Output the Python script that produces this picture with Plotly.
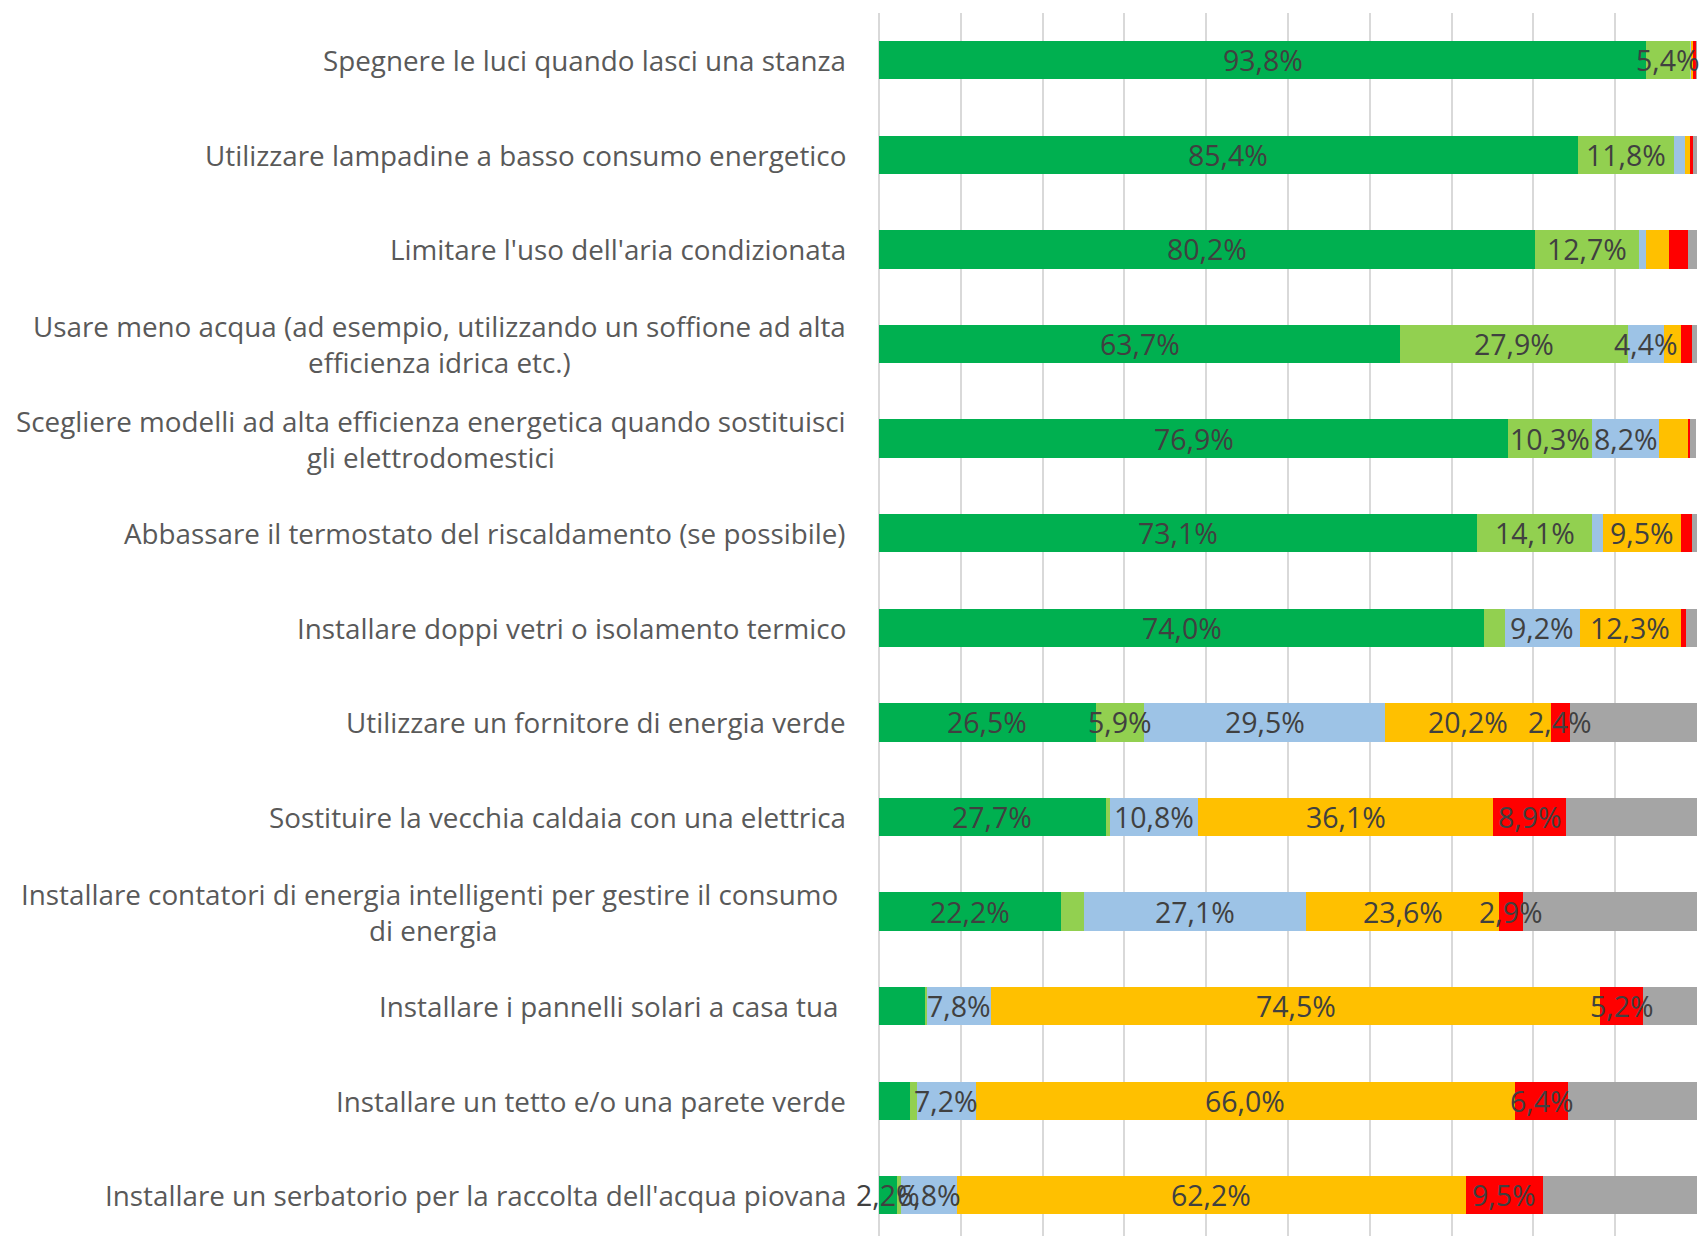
import plotly.graph_objects as go

categories = [
    "Spegnere le luci quando lasci una stanza",
    "Utilizzare lampadine a basso consumo energetico",
    "Limitare l'uso dell'aria condizionata",
    "Usare meno acqua (ad esempio, utilizzando un soffione ad alta<br>efficienza idrica etc.)",
    "Scegliere modelli ad alta efficienza energetica quando sostituisci<br>gli elettrodomestici",
    "Abbassare il termostato del riscaldamento (se possibile)",
    "Installare doppi vetri o isolamento termico",
    "Utilizzare un fornitore di energia verde",
    "Sostituire la vecchia caldaia con una elettrica",
    "Installare contatori di energia intelligenti per gestire il consumo\u00a0<br>di energia",
    "Installare i pannelli solari a casa tua\u00a0",
    "Installare un tetto e/o una parete verde",
    "Installare un serbatorio per la raccolta dell'acqua piovana",
]

s1 = [93.8, 85.4, 80.2, 63.7, 76.9, 73.1, 74.0, 26.5, 27.7, 22.2, 5.6, 3.8, 2.2]
s2 = [5.4, 11.8, 12.7, 27.9, 10.3, 14.1, 2.5, 5.9, 0.5, 2.9, 0.3, 0.8, 0.5]
s3 = [0.1, 1.3, 0.9, 4.4, 8.2, 1.3, 9.2, 29.5, 10.8, 27.1, 7.8, 7.2, 6.8]
s4 = [0.2, 0.6, 2.8, 2.1, 3.5, 9.5, 12.3, 20.2, 36.1, 23.6, 74.5, 66.0, 62.2]
s5 = [0.4, 0.4, 2.3, 1.3, 0.3, 1.4, 0.6, 2.4, 8.9, 2.9, 5.2, 6.4, 9.5]
s6 = [0.1, 0.5, 1.1, 0.6, 0.7, 0.6, 1.4, 15.5, 16.0, 21.3, 6.6, 15.8, 18.8]

# which data labels are displayed (1 = shown)
show1 = [1, 1, 1, 1, 1, 1, 1, 1, 1, 1, 0, 0, 1]
show2 = [1, 1, 1, 1, 1, 1, 0, 1, 0, 0, 0, 0, 0]
show3 = [0, 0, 0, 1, 1, 0, 1, 1, 1, 1, 1, 1, 1]
show4 = [0, 0, 0, 0, 0, 1, 1, 1, 1, 1, 1, 1, 1]
show5 = [0, 0, 0, 0, 0, 0, 0, 1, 1, 1, 1, 1, 1]
show6 = [0] * 13

series = [s1, s2, s3, s4, s5, s6]
shows = [show1, show2, show3, show4, show5, show6]
names = ["Serie 1", "Serie 2", "Serie 3", "Serie 4", "Serie 5", "Serie 6"]
colors = ["#00B050", "#92D050", "#9DC3E6", "#FFC000", "#FF0000", "#A5A5A5"]

FONT = "Open Sans"
ypos = list(range(len(categories)))

fig = go.Figure()
for vals, name, col in zip(series, names, colors):
    fig.add_trace(go.Bar(
        y=ypos, x=vals, name=name, orientation="h",
        marker=dict(color=col, line=dict(width=0)),
        hoverinfo="x+name",
    ))

annotations = []
cum = [0.0] * len(categories)
for vals, sh in zip(series, shows):
    for i, v in enumerate(vals):
        if sh[i]:
            annotations.append(dict(
                x=cum[i] + v / 2, y=i, xref="x", yref="y",
                text=f"{v:.1f}".replace(".", ",") + "%",
                showarrow=False, xanchor="center", yanchor="middle",
                font=dict(family=FONT, size=28.5, color="#404040"),
            ))
        cum[i] += v

for i, c in enumerate(categories):
    annotations.append(dict(
        x=0, y=i, xref="x", yref="y", xshift=-31,
        text=c, showarrow=False, xanchor="right", yanchor="middle",
        align="center",
        font=dict(family=FONT, size=27.8, color="#595959"),
    ))

fig.update_layout(
    width=1702, height=1236,
    barmode="stack", bargap=0.595,
    showlegend=False,
    plot_bgcolor="white", paper_bgcolor="white",
    margin=dict(l=879, r=5, t=13, b=0),
    annotations=annotations,
    font=dict(family=FONT),
)
fig.update_xaxes(
    range=[0, 100], tickvals=list(range(0, 101, 10)),
    showticklabels=False, showgrid=True, gridcolor="#D9D9D9", gridwidth=2,
    zeroline=True, zerolinecolor="#D9D9D9", zerolinewidth=2,
    showline=False, ticks="",
)
fig.update_yaxes(
    range=[12.43, -0.5], showticklabels=False, showgrid=False,
    zeroline=False, showline=False, ticks="",
)

fig.write_html(
    "out.html",
    config={"displayModeBar": False},
    post_script="document.body.style.margin='0';document.body.style.overflow='hidden';",
)
